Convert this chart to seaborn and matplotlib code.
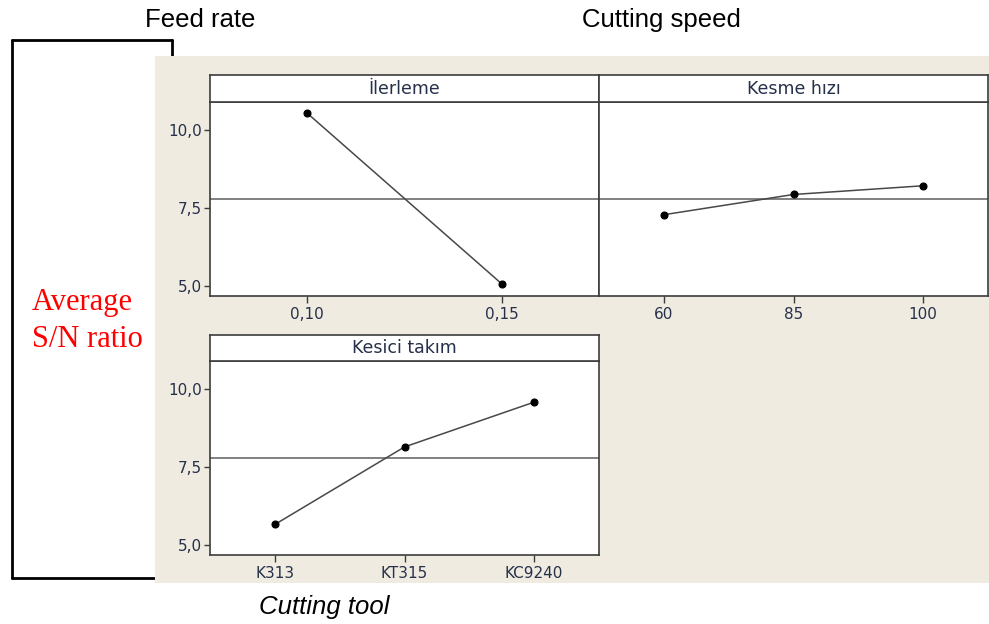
import matplotlib
matplotlib.use("Agg")
import matplotlib.pyplot as plt
import seaborn as sns
from matplotlib.patches import Rectangle
from matplotlib.lines import Line2D

# Main effects for S/N ratios
feed_levels = ["0,10", "0,15"]
feed_sn = [10.54, 5.06]
speed_levels = ["60", "85", "100"]
speed_sn = [7.28, 7.93, 8.21]
tool_levels = ["K313", "KT315", "KC9240"]
tool_sn = [5.65, 8.14, 9.58]
grand_mean = 7.80

y_ticks = [5.0, 7.5, 10.0]
y_ticklabels = ["5,0", "7,5", "10,0"]
panel_titles = ["İlerleme", "Kesme hızı", "Kesici takım"]

sns.set_style("white")
plt.rcParams["font.family"] = ["DejaVu Sans"]

W, H = 989, 624
fig = plt.figure(figsize=(W / 100, H / 100), dpi=100)
fig.patch.set_facecolor("white")


def box(x0, y0, x1, y1):
    # pixel box (top-left origin) -> figure fraction rect
    return [x0 / W, 1 - y1 / H, (x1 - x0) / W, (y1 - y0) / H]


# bracket behind the Minitab panel
for xs, ys in [([12, 172], [40, 40]), ([172, 172], [40, 60]),
               ([12, 12], [40, 578]), ([12, 158], [578, 578])]:
    fig.add_artist(Line2D([x / W for x in xs], [1 - y / H for y in ys],
                          color="black", lw=2, zorder=0))

# beige Minitab background
fig.add_artist(Rectangle((155 / W, 1 - 583 / H), (989 - 155) / W, (583 - 56) / H,
                         transform=fig.transFigure, facecolor="#efebe1",
                         edgecolor="none", zorder=1))

frame_col = "#3c3c3c"
tick_col = "#26304a"
ylim = (4.67, 10.9)

panels = [
    (feed_levels, feed_sn, (210, 75, 599, 296), True),
    (speed_levels, speed_sn, (599, 75, 988, 296), False),
    (tool_levels, tool_sn, (210, 335, 599, 555), True),
]

for (levels, vals, (x0, y0, x1, y1), show_y), title in zip(panels, panel_titles):
    strip_h = 27 if y0 == 75 else 26
    ax = fig.add_axes(box(x0, y0 + strip_h, x1, y1), zorder=3)
    sax = fig.add_axes(box(x0, y0, x1, y0 + strip_h), zorder=3)

    ax.axhline(grand_mean, color="#767676", lw=1.3, zorder=1)
    sns.pointplot(x=levels, y=vals, order=levels, ax=ax, color="#484848",
                  markers="o", markersize=5, linewidth=1.1, errorbar=None)
    for ln in ax.lines:
        ln.set_markerfacecolor("black")
        ln.set_markeredgecolor("black")
    ax.set_xlim(-0.5, len(levels) - 0.5)
    ax.set_ylim(*ylim)
    ax.set_yticks(y_ticks)
    ax.set_facecolor("white")
    ax.set_xlabel("")
    ax.set_ylabel("")
    if show_y:
        ax.set_yticklabels(y_ticklabels)
        ax.tick_params(axis="y", left=True, length=4, width=1, color=frame_col,
                       labelsize=11, labelcolor=tick_col, pad=2)
    else:
        ax.tick_params(axis="y", left=False, labelleft=False)
    ax.tick_params(axis="x", bottom=True, length=5, width=1, color=frame_col,
                   labelsize=11, labelcolor=tick_col, pad=3)
    for sp in ax.spines.values():
        sp.set_color(frame_col)
        sp.set_linewidth(1.2)

    sax.set_facecolor("white")
    sax.set_xticks([])
    sax.set_yticks([])
    for sp in sax.spines.values():
        sp.set_color(frame_col)
        sp.set_linewidth(1.2)
    sax.text(0.5, 0.5, title, ha="center", va="center", fontsize=12.5,
             color=tick_col, transform=sax.transAxes)

# annotations around the figure
fig.text(200 / W, 1 - 20 / H, "Feed rate", ha="center", va="center",
         fontsize=18.5, family="Liberation Sans", color="black")
fig.text(661 / W, 1 - 20 / H, "Cutting speed", ha="center", va="center",
         fontsize=18.5, family="Liberation Sans", color="black")
fig.text(32 / W, 1 - 321 / H, "Average\nS/N ratio", ha="left", va="center",
         fontsize=22, family="Liberation Serif", color="red", linespacing=1.35,
         multialignment="left", zorder=2)
fig.text(324 / W, 1 - 607 / H, "Cutting tool", ha="center", va="center",
         fontsize=18.5, family="Liberation Sans", style="italic", color="black")

fig.savefig("out.png", dpi=100, facecolor="white")
